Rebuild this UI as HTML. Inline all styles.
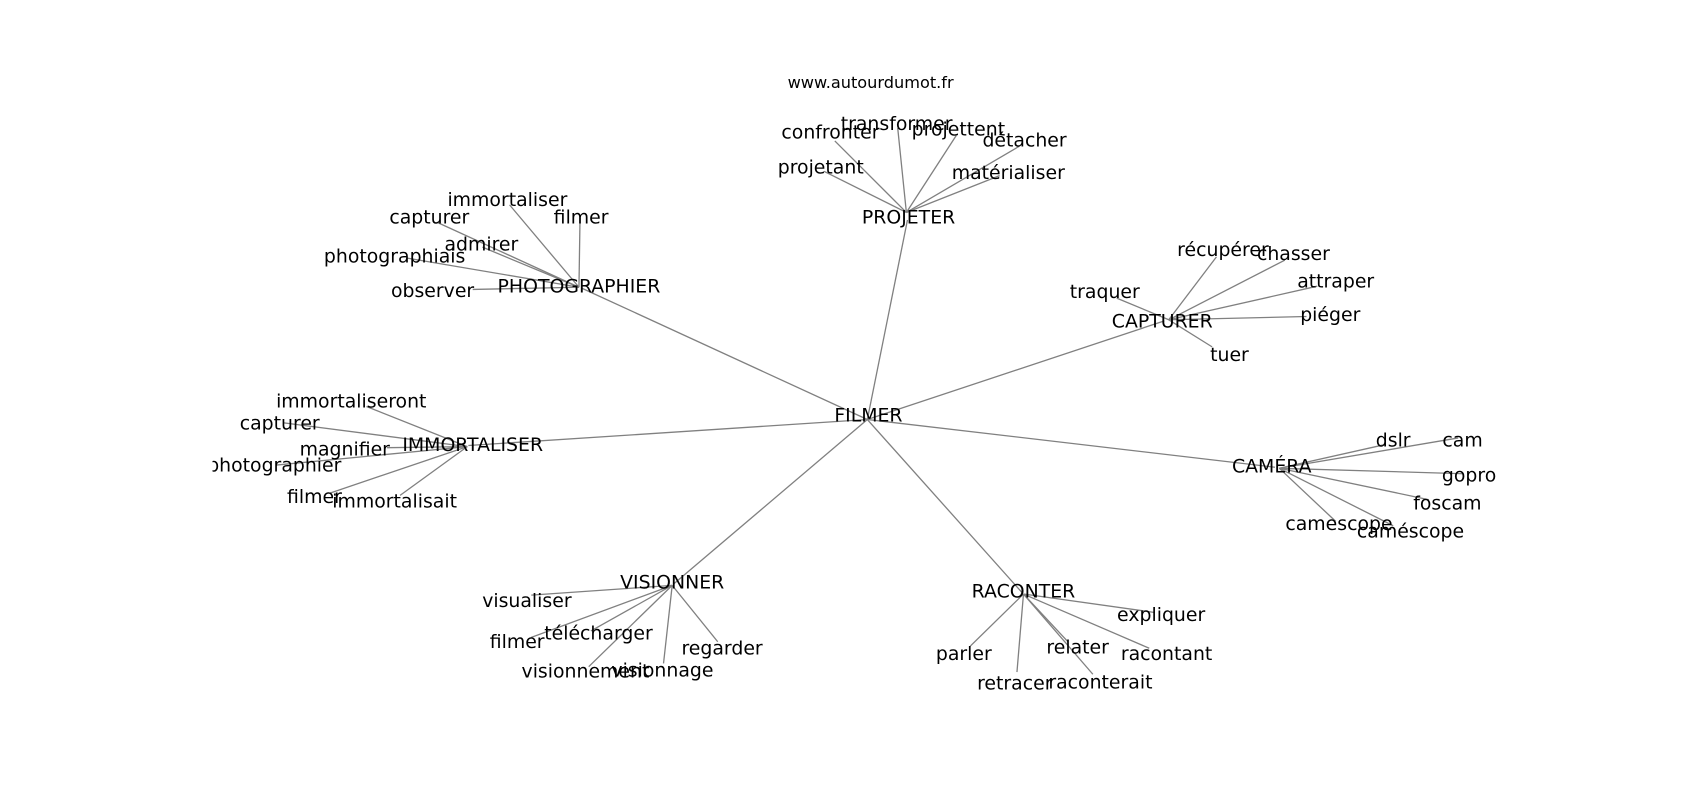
<!DOCTYPE html>
<html><head><meta charset="utf-8"><style>html,body{margin:0;padding:0;background:#fff}svg{display:block}</style></head>
<body>
<svg width="1700" height="800" viewBox="0 0 1568 738" xmlns="http://www.w3.org/2000/svg" preserveAspectRatio="none">
<defs><clipPath id="c"><rect x="196" y="0" width="1372" height="738"/></clipPath></defs>
<text x="803" y="81" font-family="DejaVu Sans, sans-serif" font-size="14.9" text-anchor="middle">www.autourdumot.fr</text>
<g clip-path="url(#c)">
<g stroke="#808080" stroke-width="1.2" fill="none">
<line x1="800" y1="387" x2="537" y2="266"/>
<line x1="800" y1="387" x2="837" y2="203"/>
<line x1="800" y1="387" x2="1074" y2="296"/>
<line x1="800" y1="387" x2="1176" y2="431"/>
<line x1="800" y1="387" x2="432" y2="411"/>
<line x1="800" y1="387" x2="621" y2="539"/>
<line x1="800" y1="387" x2="943" y2="547"/>
<line x1="534" y1="265" x2="470" y2="189"/>
<line x1="534" y1="265" x2="403" y2="205"/>
<line x1="534" y1="265" x2="535" y2="201"/>
<line x1="534" y1="265" x2="445" y2="228"/>
<line x1="534" y1="265" x2="375" y2="238"/>
<line x1="534" y1="265" x2="436" y2="267"/>
<line x1="836" y1="196" x2="770" y2="130"/>
<line x1="836" y1="196" x2="828" y2="118"/>
<line x1="836" y1="196" x2="882" y2="125"/>
<line x1="836" y1="196" x2="940" y2="135"/>
<line x1="836" y1="196" x2="760" y2="158"/>
<line x1="836" y1="196" x2="922" y2="162"/>
<line x1="1078" y1="295" x2="1122" y2="237"/>
<line x1="1078" y1="295" x2="1185" y2="240"/>
<line x1="1078" y1="295" x2="1215" y2="264"/>
<line x1="1078" y1="295" x2="1205" y2="292"/>
<line x1="1078" y1="295" x2="1118" y2="320"/>
<line x1="1078" y1="295" x2="1030" y2="275"/>
<line x1="1180" y1="432" x2="1278" y2="410"/>
<line x1="1180" y1="432" x2="1345" y2="404"/>
<line x1="1180" y1="432" x2="1350" y2="437"/>
<line x1="1180" y1="432" x2="1318" y2="461"/>
<line x1="1180" y1="432" x2="1232" y2="481"/>
<line x1="1180" y1="432" x2="1285" y2="485"/>
<line x1="431" y1="412" x2="338" y2="375"/>
<line x1="431" y1="412" x2="261" y2="390"/>
<line x1="431" y1="412" x2="357" y2="413"/>
<line x1="431" y1="412" x2="255" y2="429"/>
<line x1="431" y1="412" x2="304" y2="455"/>
<line x1="431" y1="412" x2="369" y2="457"/>
<line x1="620" y1="540" x2="490" y2="549"/>
<line x1="620" y1="540" x2="490" y2="588"/>
<line x1="620" y1="540" x2="545" y2="582"/>
<line x1="620" y1="540" x2="543" y2="615"/>
<line x1="620" y1="540" x2="612" y2="612"/>
<line x1="620" y1="540" x2="662" y2="592"/>
<line x1="944" y1="548" x2="1065" y2="565"/>
<line x1="944" y1="548" x2="895" y2="596"/>
<line x1="944" y1="548" x2="985" y2="592"/>
<line x1="944" y1="548" x2="1060" y2="598"/>
<line x1="944" y1="548" x2="938" y2="620"/>
<line x1="944" y1="548" x2="1008" y2="622"/>
</g>
<g font-family="DejaVu Sans, sans-serif" font-size="17.4" text-anchor="middle" fill="#000">
<text x="801" y="389">FILMER</text>
<text x="534" y="270">PHOTOGRAPHIER</text>
<text x="468" y="190">immortaliser</text>
<text x="396" y="206">capturer</text>
<text x="536" y="206">filmer</text>
<text x="444" y="231">admirer</text>
<text x="364" y="242">photographiais</text>
<text x="399" y="274">observer</text>
<text x="838" y="206">PROJETER</text>
<text x="766" y="128">confronter</text>
<text x="827" y="120">transformer</text>
<text x="884" y="125">projettent</text>
<text x="945" y="135">détacher</text>
<text x="757" y="160">projetant</text>
<text x="930" y="165">matérialiser</text>
<text x="1072" y="302">CAPTURER</text>
<text x="1128" y="236">récupérer</text>
<text x="1193" y="240">chasser</text>
<text x="1232" y="265">attraper</text>
<text x="1227" y="296">piéger</text>
<text x="1134" y="333">tuer</text>
<text x="1019" y="275">traquer</text>
<text x="1173" y="436">CAMÉRA</text>
<text x="1285" y="412">dslr</text>
<text x="1349" y="412">cam</text>
<text x="1355" y="444">gopro</text>
<text x="1335" y="470">foscam</text>
<text x="1235" y="489">camescope</text>
<text x="1301" y="496">caméscope</text>
<text x="436" y="416">IMMORTALISER</text>
<text x="324" y="376">immortaliseront</text>
<text x="258" y="396">capturer</text>
<text x="318" y="420">magnifier</text>
<text x="253" y="435">photographier</text>
<text x="290" y="464">filmer</text>
<text x="364" y="468">immortalisait</text>
<text x="620" y="543">VISIONNER</text>
<text x="486" y="560">visualiser</text>
<text x="477" y="598">filmer</text>
<text x="552" y="590">télécharger</text>
<text x="540" y="625">visionnement</text>
<text x="611" y="624">visionnage</text>
<text x="666" y="604">regarder</text>
<text x="944" y="551">RACONTER</text>
<text x="1071" y="573">expliquer</text>
<text x="889" y="609">parler</text>
<text x="994" y="603">relater</text>
<text x="1076" y="609">racontant</text>
<text x="936" y="636">retracer</text>
<text x="1015" y="635">raconterait</text>
</g>
</g>
</svg>
</body></html>
